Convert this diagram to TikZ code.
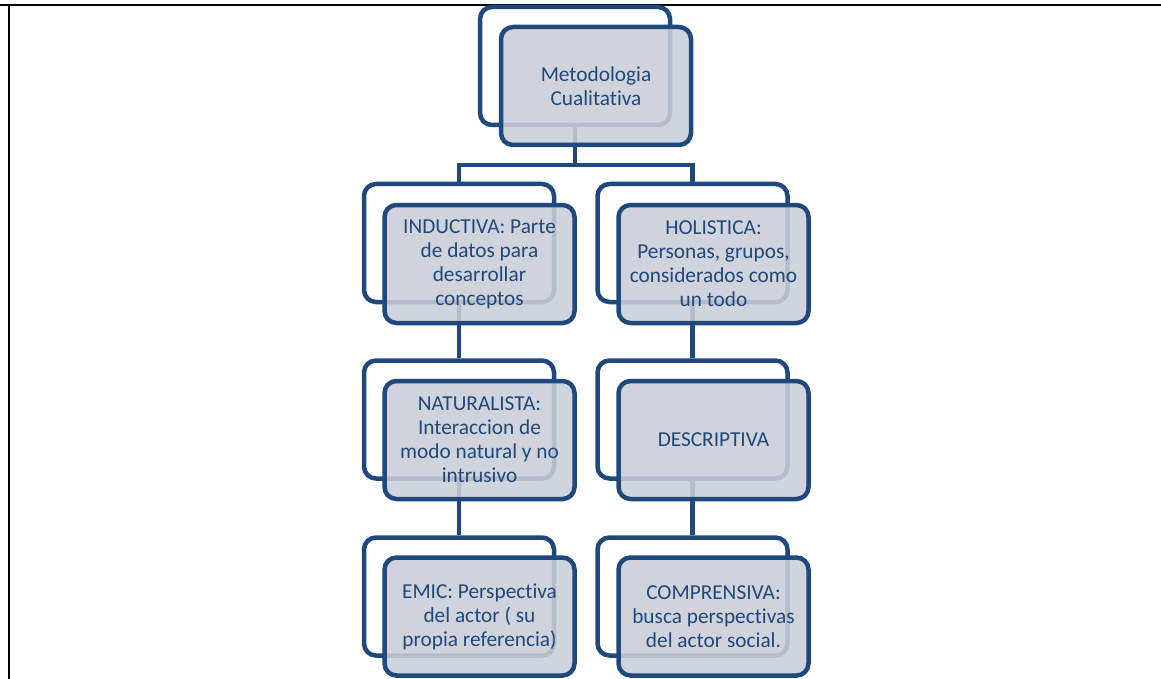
\documentclass[tikz,border=0pt]{standalone}
\usepackage{fontspec}
\setmainfont[RawFeature={-liga}]{Carlito}
\definecolor{dkblue}{HTML}{1F497D}
\definecolor{boxfill}{HTML}{CACED7}
\begin{document}
\begin{tikzpicture}[x=1pt,y=-1pt,
  backbox/.style={draw=dkblue, line width=4.5pt, fill=white, rounded corners=12pt,
    minimum width=190pt, minimum height=118pt, inner sep=0pt, rectangle},
  frontbox/.style={draw=dkblue, line width=4.5pt, fill=boxfill, fill opacity=0.88,
    draw opacity=1, text opacity=1, rounded corners=12pt,
    minimum width=190pt, minimum height=118pt, inner sep=0pt, rectangle,
    text=dkblue, align=center, font=\fontsize{21.3}{24}\selectfont},
  conn/.style={draw=dkblue, line width=4.5pt}]
\useasboundingbox (0,0) rectangle (1161,679);
% frame
\draw[line width=2pt] (0,5) -- (1161,5);
\draw[line width=2pt] (9,5) -- (9,679);
% back boxes
\node[backbox] (tB) at (575,66) {};
\node[backbox] (l1B) at (459,243) {};
\node[backbox] (r1B) at (692.5,243) {};
\node[backbox] (l2B) at (459,419.5) {};
\node[backbox] (r2B) at (692.5,419.5) {};
\node[backbox] (l3B) at (459,596.5) {};
\node[backbox] (r3B) at (692.5,596.5) {};
% connectors
\coordinate (j) at (575,165);
\draw[conn] (tB.south) -- (j) -| (l1B.north);
\draw[conn] (j) -| (r1B.north);
\draw[conn] (l1B.south) -- (l2B.north);
\draw[conn] (l2B.south) -- (l3B.north);
\draw[conn] (r1B.south) -- (r2B.north);
\draw[conn] (r2B.south) -- (r3B.north);
% front boxes
\node[frontbox] (t) at (596,86) {Metodologia\\Cualitativa};
\node[frontbox] (l1) at (479.5,264) {INDUCTIVA: Parte\\de datos para\\desarrollar\\conceptos};
\node[frontbox] (r1) at (713.5,264) {HOLISTICA:\\Personas, grupos,\\considerados como\\un todo};
\node[frontbox] (l2) at (479.5,440) {NATURALISTA:\\Interaccion de\\modo natural y no\\intrusivo};
\node[frontbox] (r2) at (713.5,440) {DESCRIPTIVA};
\node[frontbox] (l3) at (479.5,616.5) {EMIC: Perspectiva\\del actor ( su\\propia referencia)};
\node[frontbox] (r3) at (713.5,616.5) {COMPRENSIVA:\\busca perspectivas\\del actor social.};
\end{tikzpicture}
\end{document}
